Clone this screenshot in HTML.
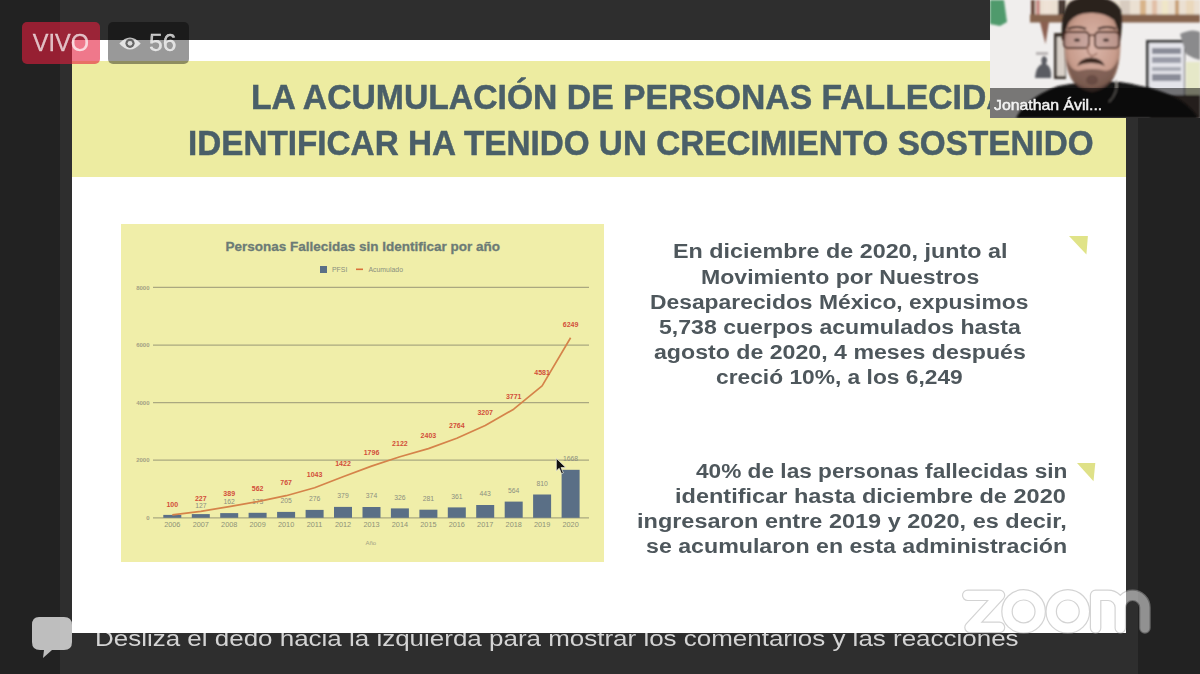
<!DOCTYPE html>
<html><head><meta charset="utf-8"><title>Zoom</title>
<style>
*{margin:0;padding:0;box-sizing:border-box}
html,body{width:1200px;height:674px;overflow:hidden;background:#222222;font-family:"Liberation Sans",Arial,sans-serif}
.abs{position:absolute}
#stage{position:absolute;left:60px;top:0;width:1078px;height:674px;background:#2e2e2e}
#footer{position:absolute;left:96px;top:622px;font-size:23px;color:#d4d4d4;white-space:nowrap;}
#slide{position:absolute;left:72px;top:40px;width:1054px;height:593px;background:#ffffff;overflow:hidden}
#band{position:absolute;left:0;top:21px;width:1054px;height:116px;background:#edeca1}
.tt{position:absolute;font-weight:700;font-size:33px;color:#4a5f68;-webkit-text-stroke:0.5px #4a5f68;white-space:nowrap;line-height:1}
.chart{position:absolute;left:49px;top:184px}
.ct{font:700 13.5px "Liberation Sans",Arial,sans-serif;fill:#6c7b76;stroke:#6c7b76;stroke-width:0.3px}
.lg{font:400 6.9px "Liberation Sans",Arial,sans-serif;fill:#8a8e7e}
.ax{font:700 6px "Liberation Sans",Arial,sans-serif;fill:#a3a184}
.yr{font:400 7.3px "Liberation Sans",Arial,sans-serif;fill:#8e9278}
.vl{font:400 6.8px "Liberation Sans",Arial,sans-serif;fill:#8c8f80}
.cl{font:700 7px "Liberation Sans",Arial,sans-serif;fill:#d24f3a}
.bt{position:absolute;font-weight:700;font-size:20px;color:#4e575c;white-space:nowrap;line-height:1}
.tri{position:absolute;width:0;height:0}
#cam{position:absolute;left:990px;top:0;width:210px;height:118px;overflow:hidden;background:#e9e6e2}
#name{position:absolute;left:0;top:88px;width:210px;height:30px;background:rgba(0,0,0,0.5)}
#name span{position:absolute;left:3.5px;top:7.5px;font-weight:400;font-size:15px;color:#f2f2f2;-webkit-text-stroke:0.5px #f2f2f2;white-space:nowrap;transform:scaleX(1.055);transform-origin:0 0}
.badge{position:absolute;top:22px;height:42px;border-radius:5px}
#vivo{left:22px;width:78px;background:rgba(229,30,62,0.6)}
#eye{left:108px;width:81px;background:rgba(0,0,0,0.4)}
.btxt{position:absolute;top:10px;font-size:22px;color:rgba(255,255,255,0.7);white-space:nowrap;line-height:1}
#zoomlogo{position:absolute;left:962px;top:589px}
</style></head>
<body>
<div id="wrap" style="position:absolute;left:0;top:0;width:1200px;height:674px;filter:blur(0.4px)">
<div id="stage"></div>
<div id="footer" style="left:95.19px;top:626.30px;font-size:22.5px;transform:scaleX(1.1539);transform-origin:0 0">Desliza el dedo hacia la izquierda para mostrar los comentarios y las reacciones</div>
<div id="slide">
  <div id="band"></div>
  <div class="tt" id="t1" style="left:179.25px;top:40.40px;font-size:34.5px;transform:scaleX(0.977);transform-origin:0 0">LA ACUMULACIÓN DE PERSONAS FALLECIDAS SIN</div>
  <div class="tt" id="t2" style="left:116.07px;top:86.00px;font-size:34.5px;transform:scaleX(0.9642);transform-origin:0 0">IDENTIFICAR HA TENIDO UN CRECIMIENTO SOSTENIDO</div>
  <svg class="chart" width="483" height="338" viewBox="0 0 483 338">
<rect width="483" height="338" fill="#f0eea9"/>
<text x="241.8" y="26.7" text-anchor="middle" class="ct">Personas Fallecidas sin Identificar por año</text>
<rect x="199" y="42" width="7" height="7" fill="#5a6f86"/>
<text x="211" y="48" class="lg">PFSI</text>
<rect x="235" y="44.5" width="7" height="1.6" fill="#d9703a"/>
<text x="247.5" y="48" class="lg">Acumulado</text>
<line x1="32" x2="468" y1="293.8" y2="293.8" stroke="#aaa880" stroke-width="1.25"/>
<text x="28.5" y="296.0" text-anchor="end" class="ax">0</text>
<line x1="32" x2="468" y1="236.2" y2="236.2" stroke="#aaa880" stroke-width="1.25"/>
<text x="28.5" y="238.4" text-anchor="end" class="ax">2000</text>
<line x1="32" x2="468" y1="178.6" y2="178.6" stroke="#aaa880" stroke-width="1.25"/>
<text x="28.5" y="180.8" text-anchor="end" class="ax">4000</text>
<line x1="32" x2="468" y1="121.0" y2="121.0" stroke="#aaa880" stroke-width="1.25"/>
<text x="28.5" y="123.2" text-anchor="end" class="ax">6000</text>
<line x1="32" x2="468" y1="63.4" y2="63.4" stroke="#aaa880" stroke-width="1.25"/>
<text x="28.5" y="65.6" text-anchor="end" class="ax">8000</text>
<rect x="42.3" y="290.9" width="18" height="2.9" fill="#5a6f86"/>
<text x="51.3" y="303.2" text-anchor="middle" class="yr">2006</text>
<rect x="70.8" y="290.1" width="18" height="3.7" fill="#5a6f86"/>
<text x="79.8" y="284.0" text-anchor="middle" class="vl">127</text>
<text x="79.8" y="303.2" text-anchor="middle" class="yr">2007</text>
<rect x="99.2" y="289.1" width="18" height="4.7" fill="#5a6f86"/>
<text x="108.2" y="280.3" text-anchor="middle" class="vl">162</text>
<text x="108.2" y="303.2" text-anchor="middle" class="yr">2008</text>
<rect x="127.6" y="288.8" width="18" height="5.0" fill="#5a6f86"/>
<text x="136.6" y="280.0" text-anchor="middle" class="vl">173</text>
<text x="136.6" y="303.2" text-anchor="middle" class="yr">2009</text>
<rect x="156.1" y="287.9" width="18" height="5.9" fill="#5a6f86"/>
<text x="165.1" y="279.1" text-anchor="middle" class="vl">205</text>
<text x="165.1" y="303.2" text-anchor="middle" class="yr">2010</text>
<rect x="184.6" y="285.9" width="18" height="7.9" fill="#5a6f86"/>
<text x="193.6" y="277.1" text-anchor="middle" class="vl">276</text>
<text x="193.6" y="303.2" text-anchor="middle" class="yr">2011</text>
<rect x="213.0" y="282.9" width="18" height="10.9" fill="#5a6f86"/>
<text x="222.0" y="274.1" text-anchor="middle" class="vl">379</text>
<text x="222.0" y="303.2" text-anchor="middle" class="yr">2012</text>
<rect x="241.5" y="283.0" width="18" height="10.8" fill="#5a6f86"/>
<text x="250.5" y="274.2" text-anchor="middle" class="vl">374</text>
<text x="250.5" y="303.2" text-anchor="middle" class="yr">2013</text>
<rect x="269.9" y="284.4" width="18" height="9.4" fill="#5a6f86"/>
<text x="278.9" y="275.6" text-anchor="middle" class="vl">326</text>
<text x="278.9" y="303.2" text-anchor="middle" class="yr">2014</text>
<rect x="298.4" y="285.7" width="18" height="8.1" fill="#5a6f86"/>
<text x="307.4" y="276.9" text-anchor="middle" class="vl">281</text>
<text x="307.4" y="303.2" text-anchor="middle" class="yr">2015</text>
<rect x="326.8" y="283.4" width="18" height="10.4" fill="#5a6f86"/>
<text x="335.8" y="274.6" text-anchor="middle" class="vl">361</text>
<text x="335.8" y="303.2" text-anchor="middle" class="yr">2016</text>
<rect x="355.2" y="281.0" width="18" height="12.8" fill="#5a6f86"/>
<text x="364.2" y="272.2" text-anchor="middle" class="vl">443</text>
<text x="364.2" y="303.2" text-anchor="middle" class="yr">2017</text>
<rect x="383.7" y="277.6" width="18" height="16.2" fill="#5a6f86"/>
<text x="392.7" y="268.8" text-anchor="middle" class="vl">564</text>
<text x="392.7" y="303.2" text-anchor="middle" class="yr">2018</text>
<rect x="412.1" y="270.5" width="18" height="23.3" fill="#5a6f86"/>
<text x="421.1" y="261.7" text-anchor="middle" class="vl">810</text>
<text x="421.1" y="303.2" text-anchor="middle" class="yr">2019</text>
<rect x="440.6" y="245.8" width="18" height="48.0" fill="#5a6f86"/>
<text x="449.6" y="237.0" text-anchor="middle" class="vl">1668</text>
<text x="449.6" y="303.2" text-anchor="middle" class="yr">2020</text>
<polyline points="51.3,290.9 79.8,287.3 108.2,282.6 136.6,277.6 165.1,271.7 193.6,263.8 222.0,252.8 250.5,242.1 278.9,232.7 307.4,224.6 335.8,214.2 364.2,201.4 392.7,185.2 421.1,161.9 449.6,113.8" fill="none" stroke="#d5834a" stroke-width="1.7" stroke-linejoin="round"/>
<text x="51.3" y="283.2" text-anchor="middle" class="cl">100</text>
<text x="79.8" y="276.6" text-anchor="middle" class="cl">227</text>
<text x="108.2" y="271.9" text-anchor="middle" class="cl">389</text>
<text x="136.6" y="266.9" text-anchor="middle" class="cl">562</text>
<text x="165.1" y="261.0" text-anchor="middle" class="cl">767</text>
<text x="193.6" y="253.1" text-anchor="middle" class="cl">1043</text>
<text x="222.0" y="242.1" text-anchor="middle" class="cl">1422</text>
<text x="250.5" y="231.4" text-anchor="middle" class="cl">1796</text>
<text x="278.9" y="222.0" text-anchor="middle" class="cl">2122</text>
<text x="307.4" y="213.9" text-anchor="middle" class="cl">2403</text>
<text x="335.8" y="203.5" text-anchor="middle" class="cl">2764</text>
<text x="364.2" y="190.7" text-anchor="middle" class="cl">3207</text>
<text x="392.7" y="174.5" text-anchor="middle" class="cl">3771</text>
<text x="421.1" y="151.2" text-anchor="middle" class="cl">4581</text>
<text x="449.6" y="103.1" text-anchor="middle" class="cl">6249</text>
<text x="249.8" y="321" text-anchor="middle" class="ax" font-weight="400" style="font-weight:400">Año</text>
<path d="M435.3 234.3 l0 12.7 l2.9 -2.7 l2.4 5.5 l1.8 -0.8 l-2.4 -5.4 l4.8 0 Z" fill="#111" stroke="#f4f4e8" stroke-width="0.7" stroke-linejoin="round"/>
</svg>
  <div class="bt" id="p1" style="left:600.83px;top:201.00px;font-size:20px;transform:scaleX(1.1665);transform-origin:0 0">En diciembre de 2020, junto al</div>
  <div class="bt" id="p2" style="left:629.05px;top:226.70px;font-size:20px;transform:scaleX(1.154);transform-origin:0 0">Movimiento por Nuestros</div>
  <div class="bt" id="p3" style="left:578.26px;top:252.10px;font-size:20px;transform:scaleX(1.1424);transform-origin:0 0">Desaparecidos México, expusimos</div>
  <div class="bt" id="p4" style="left:587.05px;top:277.30px;font-size:20px;transform:scaleX(1.1542);transform-origin:0 0">5,738 cuerpos acumulados hasta</div>
  <div class="bt" id="p5" style="left:581.54px;top:301.80px;font-size:20px;transform:scaleX(1.1572);transform-origin:0 0">agosto de 2020, 4 meses después</div>
  <div class="bt" id="p6" style="left:644.06px;top:327.20px;font-size:20px;transform:scaleX(1.1381);transform-origin:0 0">creció 10%, a los 6,249</div>
  <div class="bt" id="q1" style="left:623.60px;top:420.80px;font-size:20px;transform:scaleX(1.1324);transform-origin:0 0">40% de las personas fallecidas sin</div>
  <div class="bt" id="q2" style="left:603.02px;top:445.60px;font-size:20px;transform:scaleX(1.1758);transform-origin:0 0">identificar hasta diciembre de 2020</div>
  <div class="bt" id="q3" style="left:564.63px;top:470.60px;font-size:20px;transform:scaleX(1.1747);transform-origin:0 0">ingresaron entre 2019 y 2020, es decir,</div>
  <div class="bt" id="q4" style="left:574.44px;top:495.90px;font-size:20px;transform:scaleX(1.1587);transform-origin:0 0">se acumularon en esta administración</div>
  <svg class="abs" style="left:996.9px;top:196.3px" width="20" height="20"><polygon points="0,0 18.9,0 17.4,18.6" fill="#e0e388"/></svg>
  <svg class="abs" style="left:1004.5px;top:422.8px" width="20" height="20"><polygon points="0,0 18.3,0 16.5,18.2" fill="#dfe188"/></svg>
</div>
<!-- zoom watermark -->
<svg class="abs" style="left:0;top:0" width="1200" height="674" viewBox="0 0 1200 674">
 <g opacity="0.5" fill="none" stroke-linecap="round" stroke-linejoin="round">
  <g stroke="#a8a8a8" stroke-width="11.6">
   <path d="M967.7 595.3 H999.5 L970 627.4 H999.5"/>
   <circle cx="1023.6" cy="611.4" r="16.6"/>
   <circle cx="1067.8" cy="611.4" r="16.6"/>
   <path d="M1095.6 628 V595.3 H1108 A12.3 12.3 0 0 1 1120.3 607.6 V628 M1120.3 607.6 A12.3 12.3 0 0 1 1144.9 607.6 V628"/>
  </g>
  <g stroke="#ffffff" stroke-width="9.2">
   <path d="M967.7 595.3 H999.5 L970 627.4 H999.5"/>
   <circle cx="1023.6" cy="611.4" r="16.6"/>
   <circle cx="1067.8" cy="611.4" r="16.6"/>
   <path d="M1095.6 628 V595.3 H1108 A12.3 12.3 0 0 1 1120.3 607.6 V628 M1120.3 607.6 A12.3 12.3 0 0 1 1144.9 607.6 V628"/>
  </g>
 </g>
</svg>
<!-- chat bubble -->
<svg class="abs" style="left:30px;top:615px" width="46" height="46" viewBox="0 0 46 46">
  <path d="M9 2 H34 Q42 2 42 10 V27 Q42 35 34 35 H22 L13 43 L14 35 H10 Q2 35 2 27 V10 Q2 2 9 2 Z" fill="rgba(225,225,225,0.82)"/>
</svg>
<!-- webcam -->
<div id="cam">
  <svg class="abs" style="left:0;top:0" width="210" height="118" viewBox="990 0 210 118">
 <defs>
  <filter id="bl" x="-20%" y="-20%" width="140%" height="140%"><feGaussianBlur stdDeviation="1.2"/></filter>
  <filter id="bl2" x="-20%" y="-20%" width="140%" height="140%"><feGaussianBlur stdDeviation="2.2"/></filter>
  <radialGradient id="skin" cx="0.5" cy="0.45" r="0.6"><stop offset="0" stop-color="#dcb8ac"/><stop offset="0.7" stop-color="#c89c8c"/><stop offset="1" stop-color="#94705f"/></radialGradient>
 </defs>
 <rect x="990" y="0" width="210" height="118" fill="#f0eeed"/>
 <g filter="url(#bl)">
 <!-- green cloth -->
 <path d="M990 0 H1004 L1007 22 L1000 26 L990 24 Z" fill="#4f9a6c"/>
 <!-- books -->
 <rect x="1032" y="0" width="168" height="15" fill="#ebe0d2"/><rect x="1058" y="0" width="8" height="15" fill="#4a3a34"/><rect x="1120" y="0" width="10" height="15" fill="#d8ccc0"/>
 <rect x="1036" y="0" width="4" height="15" fill="#c98c86"/>
 <rect x="1044" y="0" width="6" height="15" fill="#efe2d6"/>
 <rect x="1140" y="0" width="6" height="15" fill="#d8b48a"/>
 <rect x="1152" y="0" width="5" height="15" fill="#e2c0a8"/>
 <rect x="1162" y="0" width="6" height="15" fill="#f0e6c8"/>
 <rect x="1175" y="0" width="4" height="15" fill="#c9a27a"/>
 <rect x="1186" y="0" width="8" height="15" fill="#ead8bc"/>
 <!-- shelf -->
 <rect x="1031" y="0" width="4" height="22" fill="#6a4c3c"/>
 <rect x="1030" y="14.5" width="170" height="8" fill="#86644e"/>
 <!-- pennant -->
 <path d="M1040 22 H1049 L1045.5 44 Z" fill="#8a5e50"/>
 <!-- poster figure -->
 <rect x="1036" y="52" width="12" height="3" fill="#b8b4b4"/>
 <path d="M1035 78 Q1036 66 1042 64 Q1040 58 1044 56 Q1049 58 1046 64 Q1052 67 1051 78 Z" fill="#5a5c62"/>
 <!-- frame -->
 <rect x="1054" y="33" width="12" height="46" fill="#3e342e"/>
 <rect x="1057" y="37" width="8" height="39" fill="#d8d0c8"/>
 <!-- right poster -->
 <rect x="1146" y="40" width="39" height="56" fill="#3c3c3c"/>
 <rect x="1149" y="43" width="35" height="52" fill="#e4e4ea"/>
 <rect x="1152" y="48" width="29" height="6" fill="#8a8c98"/>
 <rect x="1152" y="57" width="29" height="6" fill="#9a9ca8"/>
 <rect x="1152" y="67" width="29" height="4" fill="#a8aab4"/>
 <rect x="1152" y="74" width="29" height="7" fill="#8a8c98"/>
 <path d="M1180 34 Q1192 28 1200 32 V60 Q1192 58 1186 54 Z" fill="#8a8a8c"/>
 <rect x="1186" y="62" width="14" height="36" fill="#e6e8c8"/>
 <rect x="1150" y="95" width="50" height="23" fill="#4a3e38"/>
 </g>
 <g filter="url(#bl)">
 <!-- shirt -->
 <path d="M1016 118 Q1026 98 1058 86 Q1090 80 1120 82 Q1160 88 1180 100 Q1192 108 1198 118 Z" fill="#141313"/>
 <!-- collar line -->
 <path d="M1116 80 Q1119 92 1109 102" stroke="#a29e98" stroke-width="1.5" fill="none"/>
 <!-- jaw/beard base -->
 <path d="M1066 60 Q1068 88 1092 92 Q1116 88 1119 60 Z" fill="#5a423a"/>
 <!-- face -->
 <path d="M1065 36 Q1064 12 1092 10 Q1120 12 1120 36 Q1122 62 1114 76 Q1104 88 1092 88 Q1078 88 1070 76 Q1063 62 1065 36 Z" fill="url(#skin)"/>
 <!-- beard stubble -->
 <path d="M1066 58 Q1070 88 1092 89 Q1114 88 1119 58 Q1112 74 1102 70 Q1092 68 1082 70 Q1072 74 1066 58 Z" fill="#6a4e44" opacity="0.75"/><ellipse cx="1092" cy="80" rx="6" ry="5" fill="#5a4038" opacity="0.6"/>
 <!-- hair -->
 <path d="M1062 40 Q1060 12 1070 2 Q1080 -4 1096 -3 Q1114 -2 1121 10 Q1123 26 1120 42 Q1118 28 1114 20 Q1104 12 1090 13 Q1076 13 1069 22 Q1065 30 1065 40 Z" fill="#2c221e"/>
 <!-- mustache -->
 <path d="M1077 66 Q1080 58 1091 57.5 Q1102 58 1105 66 Q1099 63 1091 63 Q1083 63 1077 66 Z" fill="#3e2a24"/>
 <!-- glasses -->
 <rect x="1064" y="32" width="25" height="16" rx="4" fill="#9a8890" fill-opacity="0.25" stroke="#4e2e24" stroke-width="1.8"/>
 <rect x="1095" y="32" width="24" height="16" rx="4" fill="#9a8890" fill-opacity="0.25" stroke="#4e2e24" stroke-width="1.8"/>
 <path d="M1089 36 Q1092 34 1095 36" stroke="#4e2e24" stroke-width="1.5" fill="none"/>
 <!-- eyebrows -->
 <path d="M1068 29 Q1077 25 1086 29" stroke="#3a2824" stroke-width="2" fill="none"/>
 <path d="M1098 29 Q1107 25 1116 29" stroke="#3a2824" stroke-width="2" fill="none"/>
 <!-- eyes -->
 <ellipse cx="1077" cy="40" rx="3" ry="1.5" fill="#3a2a28"/>
 <ellipse cx="1106" cy="40" rx="3" ry="1.5" fill="#3a2a28"/>
 <!-- nose shadow -->
 <path d="M1088 44 Q1086 54 1092 56 Q1096 55 1097 53" stroke="#9a6e60" stroke-width="1.5" fill="none"/>
 </g>
</svg>

  <div id="name"><span>Jonathan Ávil...</span></div>
</div>
<div class="badge" id="vivo"><span class="btxt" style="left:10.8px;top:10px;font-size:23.5px;-webkit-text-stroke:0.3px rgba(255,255,255,0.6);transform:scaleX(1.0);transform-origin:0 0">VIVO</span></div>
<div class="badge" id="eye">
  <svg class="abs" style="left:10.5px;top:14px" width="22" height="15" viewBox="0 0 22 15"><path d="M0.3 7.5 Q11 -4.5 21.7 7.5 Q11 19.5 0.3 7.5 Z" fill="rgba(255,255,255,0.72)"/><circle cx="11" cy="7.3" r="4.6" fill="rgba(95,95,95,0.95)"/><circle cx="11" cy="7.3" r="2.4" fill="rgba(225,225,225,0.95)"/></svg>
  <span class="btxt" style="left:40.5px;top:10px;font-size:23px;-webkit-text-stroke:0.3px rgba(255,255,255,0.7);transform:scaleX(1.07);transform-origin:0 0">56</span>
</div>
</div>
</body></html>
